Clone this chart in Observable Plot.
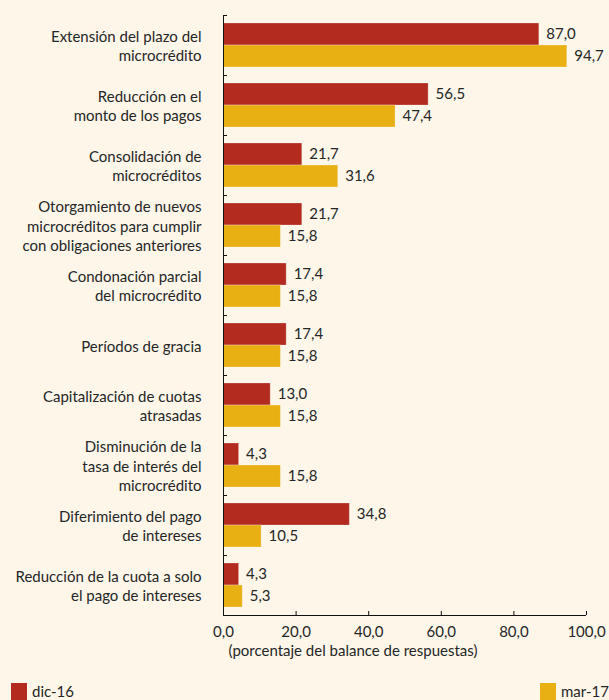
<!DOCTYPE html>
<html>
<head>
<meta charset="utf-8">
<script src="https://cdn.jsdelivr.net/npm/d3@7"></script>
<script src="https://cdn.jsdelivr.net/npm/@observablehq/plot@0.6"></script>
<style>
  html, body { margin: 0; padding: 0; background: #fdf6e9; }
  body { width: 609px; height: 700px; position: relative; overflow: hidden; font-family: Lato, sans-serif; color: #262626; }
  #chart { position: absolute; left: 0; top: 0; }
  .leg { position: absolute; top: 683px; font-size: 15px; line-height: 17px; display: flex; align-items: flex-start; }
  .sw { width: 16px; height: 17px; margin-right: 5px; }
</style>
</head>
<body>
<div id="chart"></div>
<div class="leg" style="left:11px"><div class="sw" style="background:#b22b1e"></div><span>dic-16</span></div>
<div class="leg" style="left:540px"><div class="sw" style="background:#e8b013"></div><span>mar-17</span></div>
<script>
const categories = [
  "Extensión del plazo del\nmicrocrédito",
  "Reducción en el\nmonto de los pagos",
  "Consolidación de\nmicrocréditos",
  "Otorgamiento de nuevos\nmicrocréditos para cumplir\ncon obligaciones anteriores",
  "Condonación parcial\ndel microcrédito",
  "Períodos de gracia",
  "Capitalización de cuotas\natrasadas",
  "Disminución de la\ntasa de interés del\nmicrocrédito",
  "Diferimiento del pago\nde intereses",
  "Reducción de la cuota a solo\nel pago de intereses"
];
const dic16 = [87.0, 56.5, 21.7, 21.7, 17.4, 17.4, 13.0, 4.3, 34.8, 4.3];
const mar17 = [94.7, 47.4, 31.6, 15.8, 15.8, 15.8, 15.8, 15.8, 10.5, 5.3];
const xTicks = [0, 20, 40, 60, 80, 100];
const axisLabel = "(porcentaje del balance de respuestas)";

const RED = "#b22b1e", YEL = "#e8b013";
const fmt = v => v.toFixed(1).replace(".", ",");
const rowsDic = categories.map((c, i) => ({cat: c, value: dic16[i]}));
const rowsMar = categories.map((c, i) => ({cat: c, value: mar17[i]}));

const chart = Plot.plot({
  width: 609,
  height: 670,
  marginLeft: 223,
  marginRight: 23,
  marginTop: 15,
  marginBottom: 55,
  x: {domain: [0, 100], axis: null},
  y: {domain: categories, padding: 0, axis: null},
  style: {background: "transparent", fontFamily: "Lato, sans-serif", fontSize: "15px", color: "#262626"},
  marks: [
    Plot.barX(rowsDic, {x: "value", y: "cat", fill: RED, stroke: "#fff", strokeOpacity: 0.25, insetTop: 8, insetBottom: 30}),
    Plot.barX(rowsMar, {x: "value", y: "cat", fill: YEL, stroke: "#fff", strokeOpacity: 0.25, insetTop: 30, insetBottom: 8}),
    Plot.text(rowsDic, {x: "value", y: "cat", text: d => fmt(d.value), dy: -11, dx: 7, textAnchor: "start", fill: "#262626"}),
    Plot.text(rowsMar, {x: "value", y: "cat", text: d => fmt(d.value), dy: 11, dx: 7, textAnchor: "start", fill: "#262626"}),
    Plot.text(categories, {y: d => d, text: d => d, frameAnchor: "left", dx: -22, textAnchor: "end", lineHeight: 1.3, fill: "#262626"}),
    Plot.ruleY(categories, {y: d => d, x1: 0, x2: 1.1, dy: -30, stroke: "#111"}),
    Plot.ruleY([categories[categories.length - 1]], {y: d => d, x1: 0, x2: 100, dy: 30, stroke: "#111"}),
    Plot.ruleX(xTicks.slice(1), {insetTop: 596, stroke: "#111"}),
    Plot.ruleX([0], {stroke: "#111"}),
    Plot.axisX({ticks: xTicks, tickSize: 0, tickPadding: 11, tickFormat: fmt, label: null, fontSize: 15}),
    Plot.text([axisLabel], {frameAnchor: "bottom-left", dx: 5, dy: 40, textAnchor: "start", fill: "#262626"})
  ]
});
document.getElementById("chart").appendChild(chart);
</script>
</body>
</html>
